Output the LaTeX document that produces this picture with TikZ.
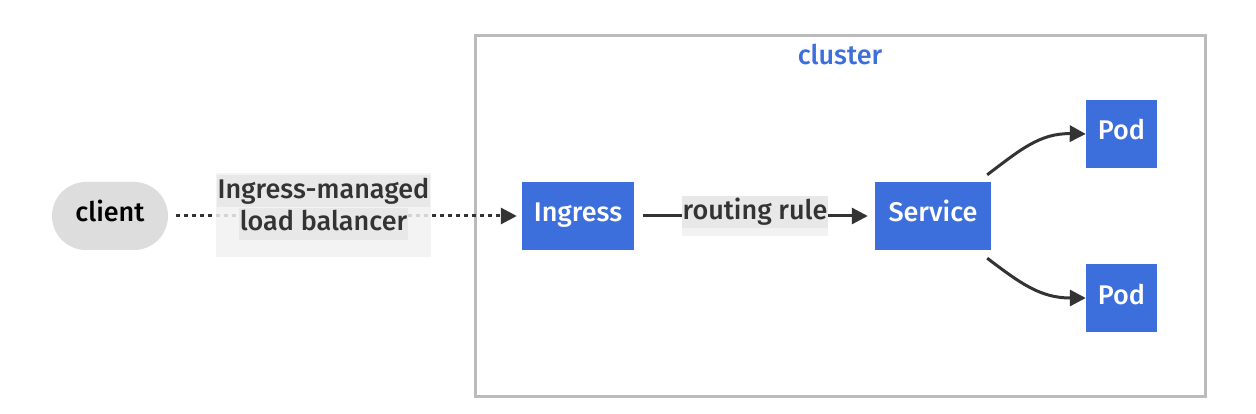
\documentclass[tikz,border=0pt]{standalone}
\usepackage{fontspec}
\setmainfont{Fira Sans}[UprightFont={* Medium}]
\usetikzlibrary{arrows.meta,calc}
\definecolor{nodeblue}{HTML}{3D6FDC}
\definecolor{clientgray}{HTML}{DDDDDD}
\definecolor{edgecol}{HTML}{333333}
\definecolor{lblin}{HTML}{E8E8E8}
\definecolor{lblout}{HTML}{F2F2F2}
\definecolor{clustborder}{HTML}{BBBBBB}
\tikzset{
  bigfont/.style={font=\fontsize{27}{31}\selectfont},
  bluebox/.style={bigfont, fill=nodeblue, draw=none, text=white, minimum height=68pt, inner sep=0pt, text height=20pt, text depth=8pt},
  clientbox/.style={bigfont, fill=clientgray, draw=none, text=black, minimum width=116pt, minimum height=68pt, rounded corners=34pt, inner sep=0pt, text height=20pt, text depth=8pt},
  edgeline/.style={draw=edgecol, line width=3pt, -{Triangle[length=16pt,width=16pt]}},
  dottedline/.style={edgeline, dash pattern=on 4pt off 4pt},
  lbltext/.style={bigfont, fill=lblin, text=edgecol, inner xsep=1pt, inner ysep=2pt, text height=21pt, text depth=7pt},
}
\begin{document}
\begin{tikzpicture}[x=1pt,y=-1pt]
\useasboundingbox (0,0) rectangle (1256,414);
\fill[white] (0,0) rectangle (1256,414);
% cluster
\draw[clustborder, line width=3pt] (475,36) rectangle (1205,396);
\node[bigfont, text=nodeblue] (cl) at (840,55) {cluster};
% nodes
\node[clientbox] (client) at (110,216) {client};
\node[bluebox, minimum width=112pt] (ing) at (578,216) {Ingress};
\node[bluebox, minimum width=116pt] (svc) at (933,216) {Service};
\node[bluebox, minimum width=71pt] (pod1) at (1121.5,134) {Pod};
\node[bluebox, minimum width=71pt] (pod2) at (1121.5,298) {Pod};
% edges
\draw[dottedline, shorten <=8pt, shorten >=5pt] (client.east) -- (ing.west);
\draw[edgeline, shorten <=9pt, shorten >=7pt] (ing.east) -- (svc.west);
\coordinate (s1) at ($(svc.north east)+(-4,-7)$);
\coordinate (s2) at ($(svc.south east)+(-4,8)$);
\draw[edgeline] (s1) .. controls (1020,150) and (1040,133) .. (pod1.west);
\draw[edgeline] (s2) .. controls (1020,283) and (1040,298) .. (pod2.west);
% labels
\node[fill=lblout, opacity=0.85, minimum width=215pt, minimum height=84pt, inner sep=0pt] (lbbg) at (323.5,215) {};
\node[lbltext] (lb1) at (323.5,191.5) {Ingress-managed};
\node[lbltext] (lb2) at (323.5,224) {load balancer};
\node[fill=lblout, minimum width=146pt, minimum height=40pt, inner sep=0pt] (rrbg) at (755,216) {};
\node[lbltext] (rr) at (755,212.5) {routing rule};
\end{tikzpicture}
\end{document}
